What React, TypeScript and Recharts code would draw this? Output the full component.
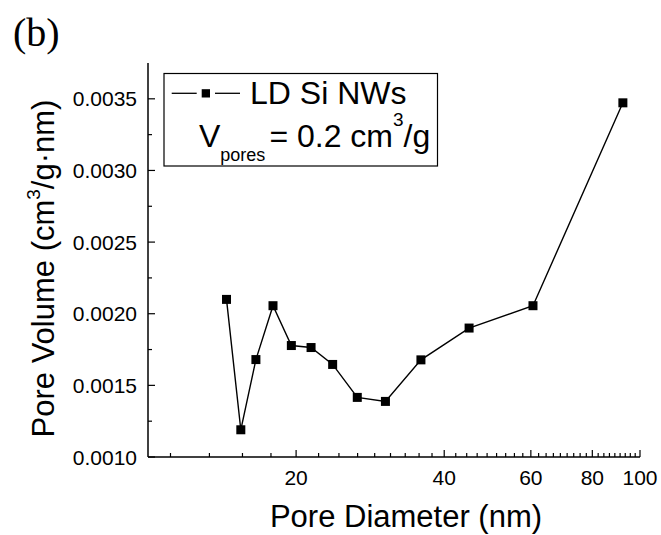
import React from 'react';
import { LineChart, Line, XAxis, YAxis } from 'recharts';

const poreDiameter = [14.44, 15.44, 16.57, 17.95, 19.56, 21.45, 23.73, 26.63, 30.38, 35.87, 44.94, 60.6, 92.3];
const poreVolume = [0.0021, 0.00119, 0.00168, 0.002056, 0.001778, 0.001764, 0.001646, 0.001416, 0.001388, 0.001678, 0.0019, 0.002056, 0.003472];

const xMajorTicks = [20, 40, 60, 80, 100];
const xMinorTicks = [
  11.11, 13.33, 15.56, 17.78,
  22.22, 24.44, 26.67, 28.89, 31.11, 33.33, 35.56, 37.78,
  42.22, 44.44, 46.67, 48.89, 51.11, 53.33, 55.56, 57.78,
  62.22, 64.44, 66.67, 68.89, 71.11, 73.33, 75.56, 77.78,
  82.22, 84.44, 86.67, 88.89, 91.11, 93.33, 95.56, 97.78,
];
const yMajorTicks = [0.001, 0.0015, 0.002, 0.0025, 0.003, 0.0035];
const yMinorTicks = [0.00125, 0.00175, 0.00225, 0.00275, 0.00325];

const xDomain = [10, 100];
const yDomain = [0.001, 0.00375];

const data = poreDiameter.map((d, i) => ({ d, v: poreVolume[i] }));
const xTicks = [...xMinorTicks, ...xMajorTicks].sort((a, b) => a - b);
const yTicks = [...yMajorTicks, ...yMinorTicks].sort((a, b) => a - b);

const FONT = '"Liberation Sans", Arial, sans-serif';
const MAJOR = 7;
const MINOR = 4;

const BottomTick = (props: any) => {
  const { x, y, payload } = props;
  const major = xMajorTicks.includes(payload.value);
  return (
    <g>
      <line x1={x} x2={x} y1={y} y2={y - (major ? MAJOR : MINOR)} stroke="#000" strokeWidth={1.2} />
      {major && (
        <text x={x} y={y + 28} textAnchor="middle" fontSize={21} fontFamily={FONT} fill="#000">
          {payload.value}
        </text>
      )}
    </g>
  );
};

const TopTick = (props: any) => {
  const { x, y, payload } = props;
  const major = xMajorTicks.includes(payload.value);
  return <line x1={x} x2={x} y1={y} y2={y + (major ? MAJOR : MINOR)} stroke="#000" strokeWidth={1.2} />;
};

const LeftTick = (props: any) => {
  const { x, y, payload } = props;
  const major = yMajorTicks.includes(payload.value);
  return (
    <g>
      <line x1={x} x2={x + (major ? MAJOR : MINOR)} y1={y} y2={y} stroke="#000" strokeWidth={1.2} />
      {major && (
        <text x={x - 11} y={y} dy="0.36em" textAnchor="end" fontSize={21} fontFamily={FONT} fill="#000">
          {payload.value.toFixed(4)}
        </text>
      )}
    </g>
  );
};

const RightTick = (props: any) => {
  const { x, y, payload } = props;
  const major = yMajorTicks.includes(payload.value);
  return <line x1={x} x2={x - (major ? MAJOR : MINOR)} y1={y} y2={y} stroke="#000" strokeWidth={1.2} />;
};

const SquareDot = (props: any) => {
  const { cx, cy, index } = props;
  if (cx == null || cy == null) return null;
  return <rect key={`dot-${index}`} x={cx - 4.5} y={cy - 4.5} width={9} height={9} fill="#000" />;
};

export default function App() {
  return (
    <div style={{ position: 'absolute', left: 0, top: 0, width: 661, height: 535, background: '#fff' }}>
      <LineChart width={661} height={535} data={data} margin={{ top: 63, right: 21, bottom: 0, left: 0 }}>
        <XAxis
          xAxisId="b"
          dataKey="d"
          type="number"
          scale="log"
          domain={xDomain}
          allowDataOverflow
          ticks={xTicks}
          interval={0}
          tick={<BottomTick />}
          tickLine={false}
          tickSize={0}
          tickMargin={0}
          height={78}
          axisLine={{ stroke: '#000', strokeWidth: 1.5 }}
        />
        <XAxis
          xAxisId="t"
          orientation="top"
          dataKey="d"
          type="number"
          scale="log"
          domain={xDomain}
          allowDataOverflow
          ticks={xTicks}
          interval={0}
          tick={<TopTick />}
          tickLine={false}
          tickSize={0}
          tickMargin={0}
          height={0}
          axisLine={{ stroke: '#000', strokeWidth: 1.5 }}
        />
        <YAxis
          yAxisId="l"
          type="number"
          domain={yDomain}
          allowDataOverflow
          ticks={yTicks}
          interval={0}
          tick={<LeftTick />}
          tickLine={false}
          tickSize={0}
          tickMargin={0}
          width={148}
          axisLine={{ stroke: '#000', strokeWidth: 1.5 }}
        />
        <YAxis
          yAxisId="r"
          orientation="right"
          type="number"
          domain={yDomain}
          allowDataOverflow
          ticks={yTicks}
          interval={0}
          tick={<RightTick />}
          tickLine={false}
          tickSize={0}
          tickMargin={0}
          width={0}
          axisLine={{ stroke: '#000', strokeWidth: 1.5 }}
        />
        <Line
          xAxisId="b"
          yAxisId="l"
          type="linear"
          dataKey="v"
          name="LD Si NWs"
          stroke="#000"
          strokeWidth={1.4}
          dot={SquareDot}
          activeDot={false}
          isAnimationActive={false}
        />
      </LineChart>
      <svg
        width={661}
        height={535}
        style={{ position: 'absolute', left: 0, top: 0, pointerEvents: 'none' }}
      >
        <text x={13} y={46} fontSize={40} fontFamily='"Liberation Serif", "Times New Roman", serif' fill="#000">
          (b)
        </text>
        <text x={406} y={527} textAnchor="middle" fontSize={31} fontFamily={FONT} fill="#000">
          Pore Diameter (nm)
        </text>
        <text
          transform="translate(54,268.5) rotate(-90)"
          textAnchor="middle"
          fontSize={31}
          fontFamily={FONT}
          fill="#000"
        >
          Pore Volume (cm
          <tspan dy={-14} fontSize={19}>3</tspan>
          <tspan dy={14}>/g·nm)</tspan>
        </text>
        <rect x={164} y={73.5} width={273.5} height={92.5} fill="#fff" stroke="#000" strokeWidth={1.2} />
        <line x1={171.7} x2={196.7} y1={93.3} y2={93.3} stroke="#000" strokeWidth={1.3} />
        <rect x={201.7} y={89.2} width={8.3} height={8.3} fill="#000" />
        <line x1={215} x2={240} y1={93.3} y2={93.3} stroke="#000" strokeWidth={1.3} />
        <text x={250} y={103.5} fontSize={32} fontFamily={FONT} fill="#000">LD Si NWs</text>
        <text x={199} y={146.5} fontSize={32} fontFamily={FONT} fill="#000">
          V
          <tspan dy={14.5} fontSize={18}>pores</tspan>
          <tspan dy={-14.5} dx={4}>= 0.2 cm</tspan>
          <tspan dy={-21} fontSize={19}>3</tspan>
          <tspan dy={21}>/g</tspan>
        </text>
      </svg>
    </div>
  );
}
